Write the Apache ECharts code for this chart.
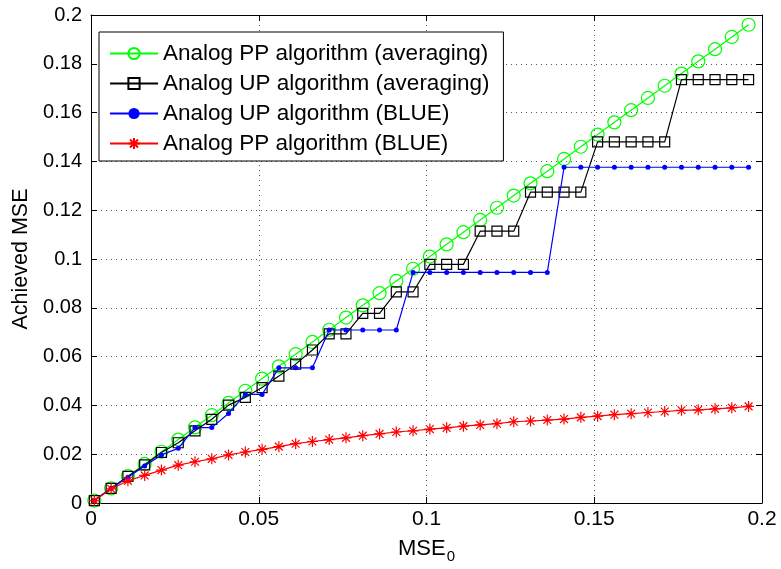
<!DOCTYPE html>
<html>
<head>
<meta charset="utf-8">
<script src="https://cdn.jsdelivr.net/npm/echarts@6/dist/echarts.min.js"></script>
<style>
html,body{margin:0;padding:0;background:#fff;}
#chart{width:781px;height:569px;}
</style>
</head>
<body>
<div id="chart"></div>
<script>
// MSE_0 values (x axis)
const mse0 = [0.001,0.006,0.011,0.016,0.021,0.026,0.031,0.036,0.041,0.046,
              0.051,0.056,0.061,0.066,0.071,0.076,0.081,0.086,0.091,0.096,
              0.101,0.106,0.111,0.116,0.121,0.126,0.131,0.136,0.141,0.146,
              0.151,0.156,0.161,0.166,0.171,0.176,0.181,0.186,0.191,0.196];

// Analog PP algorithm (averaging)
const ppAveraging = [0.001,0.006,0.011,0.016,0.021,0.026,0.031,0.036,0.041,0.046,
                     0.051,0.056,0.061,0.066,0.071,0.076,0.081,0.086,0.091,0.096,
                     0.101,0.106,0.111,0.116,0.121,0.126,0.131,0.136,0.141,0.146,
                     0.151,0.156,0.161,0.166,0.171,0.176,0.181,0.186,0.191,0.196];

// Analog UP algorithm (averaging)
const upAveraging = [0.001,0.006,0.0109,0.0156,0.0207,0.0247,0.0296,0.0343,0.0401,0.0433,
                     0.0473,0.052,0.0569,0.0627,0.0693,0.0693,0.0777,0.0777,0.0865,0.0865,
                     0.0978,0.0978,0.0978,0.1114,0.1114,0.1114,0.1274,0.1274,0.1274,0.1274,
                     0.148,0.148,0.148,0.148,0.148,0.1735,0.1735,0.1735,0.1735,0.1735];

// Analog UP algorithm (BLUE)
const upBlue = [0.001,0.006,0.0106,0.0152,0.0197,0.0224,0.0309,0.0309,0.0367,0.0445,
                0.0445,0.0554,0.0554,0.0554,0.0709,0.0709,0.0709,0.0709,0.0709,0.0945,
                0.0945,0.0945,0.0945,0.0945,0.0945,0.0945,0.0945,0.0945,0.1376,0.1376,
                0.1376,0.1376,0.1376,0.1376,0.1376,0.1376,0.1376,0.1376,0.1376,0.1376];

// Analog PP algorithm (BLUE)
const ppBlue = [0.001,0.0058,0.0091,0.0113,0.0135,0.0155,0.0169,0.0181,0.0197,0.0209,
                0.022,0.0231,0.0243,0.0252,0.026,0.0267,0.0276,0.0283,0.0291,0.0296,
                0.0303,0.0308,0.0315,0.032,0.0325,0.0333,0.0336,0.034,0.0344,0.0351,
                0.0356,0.0362,0.0366,0.0371,0.0375,0.038,0.0382,0.0386,0.039,0.0396];

const seriesNames = ['Analog PP algorithm (averaging)','Analog UP algorithm (averaging)',
                     'Analog UP algorithm (BLUE)','Analog PP algorithm (BLUE)'];

const FONT = "'Liberation Sans', Arial, Helvetica, sans-serif";
const pair = ys => mse0.map((x, i) => [x, ys[i]]);
const asterisk = 'path://M0,-10L0,10M-10,0L10,0M-7.1,-7.1L7.1,7.1M-7.1,7.1L7.1,-7.1';

const chart = echarts.init(document.getElementById('chart'), null, {renderer: 'canvas'});
const dotted = {show: true, lineStyle: {color: '#555', width: 1, type: [1, 4]}};
const axisLine = {show: true, onZero: false, lineStyle: {color: '#000', width: 1}};
chart.setOption({
  animation: false,
  backgroundColor: '#fff',
  textStyle: {fontFamily: FONT},
  grid: {left: 91, right: 19, top: 15, bottom: 64, containLabel: false},
  xAxis: [{
    type: 'value', min: 0, max: 0.2, interval: 0.05,
    axisLine: axisLine,
    axisTick: {show: true, inside: true, length: 6, lineStyle: {color: '#000'}},
    axisLabel: {color: '#000', fontSize: 21, margin: 6, fontFamily: FONT},
    splitLine: dotted,
    name: '{m|MSE}{s|0}', nameLocation: 'middle', nameGap: 30,
    nameTextStyle: {rich: {
      m: {fontSize: 22, color: '#000', fontFamily: FONT},
      s: {fontSize: 15, color: '#000', fontFamily: FONT, padding: [16, 0, 0, 1]}
    }}
  }, {
    type: 'value', min: 0, max: 0.2, interval: 0.05, position: 'top',
    axisLine: axisLine,
    axisTick: {show: true, inside: true, length: 6, lineStyle: {color: '#000'}},
    axisLabel: {show: false}, splitLine: {show: false}
  }],
  yAxis: [{
    type: 'value', min: 0, max: 0.2, interval: 0.02,
    axisLine: axisLine,
    axisTick: {show: true, inside: true, length: 6, lineStyle: {color: '#000'}},
    axisLabel: {color: '#000', fontSize: 20, margin: 9, fontFamily: FONT},
    splitLine: dotted,
    name: 'Achieved MSE', nameLocation: 'middle', nameGap: 56,
    nameTextStyle: {color: '#000', fontSize: 21.5, fontFamily: FONT}
  }, {
    type: 'value', min: 0, max: 0.2, interval: 0.02, position: 'right',
    axisLine: axisLine,
    axisTick: {show: true, inside: true, length: 6, lineStyle: {color: '#000'}},
    axisLabel: {show: false}, splitLine: {show: false}
  }],
  legend: {
    orient: 'vertical', left: 99, top: 32,
    backgroundColor: '#fff', borderColor: '#000', borderWidth: 1,
    padding: [10, 14, 6, 10], itemGap: 7, itemWidth: 48, itemHeight: 14,
    textStyle: {color: '#000', fontSize: 22.5, fontFamily: FONT},
    data: seriesNames
  },
  series: [{
    name: seriesNames[0], type: 'line', data: pair(ppAveraging),
    symbol: 'circle', symbolSize: 13, z: 2,
    lineStyle: {color: '#00ff00', width: 1.2},
    itemStyle: {color: 'rgba(0,0,0,0)', borderColor: '#00ff00', borderWidth: 1.2}
  }, {
    name: seriesNames[1], type: 'line', data: pair(upAveraging),
    symbol: 'rect', symbolSize: 10, z: 3,
    lineStyle: {color: '#000', width: 1.2},
    itemStyle: {color: 'rgba(0,0,0,0)', borderColor: '#000', borderWidth: 1.2}
  }, {
    name: seriesNames[2], type: 'line', data: pair(upBlue),
    symbol: 'circle', symbolSize: 5, z: 4,
    lineStyle: {color: '#0000ff', width: 1.2},
    itemStyle: {color: '#0000ff', borderColor: '#0000ff', borderWidth: 0}
  }, {
    name: seriesNames[3], type: 'line', data: pair(ppBlue),
    symbol: asterisk, symbolSize: 11, z: 5,
    lineStyle: {color: '#ff0000', width: 1.2},
    itemStyle: {color: '#ff0000', borderColor: '#ff0000', borderWidth: 1.2}
  }]
});
</script>
</body>
</html>
